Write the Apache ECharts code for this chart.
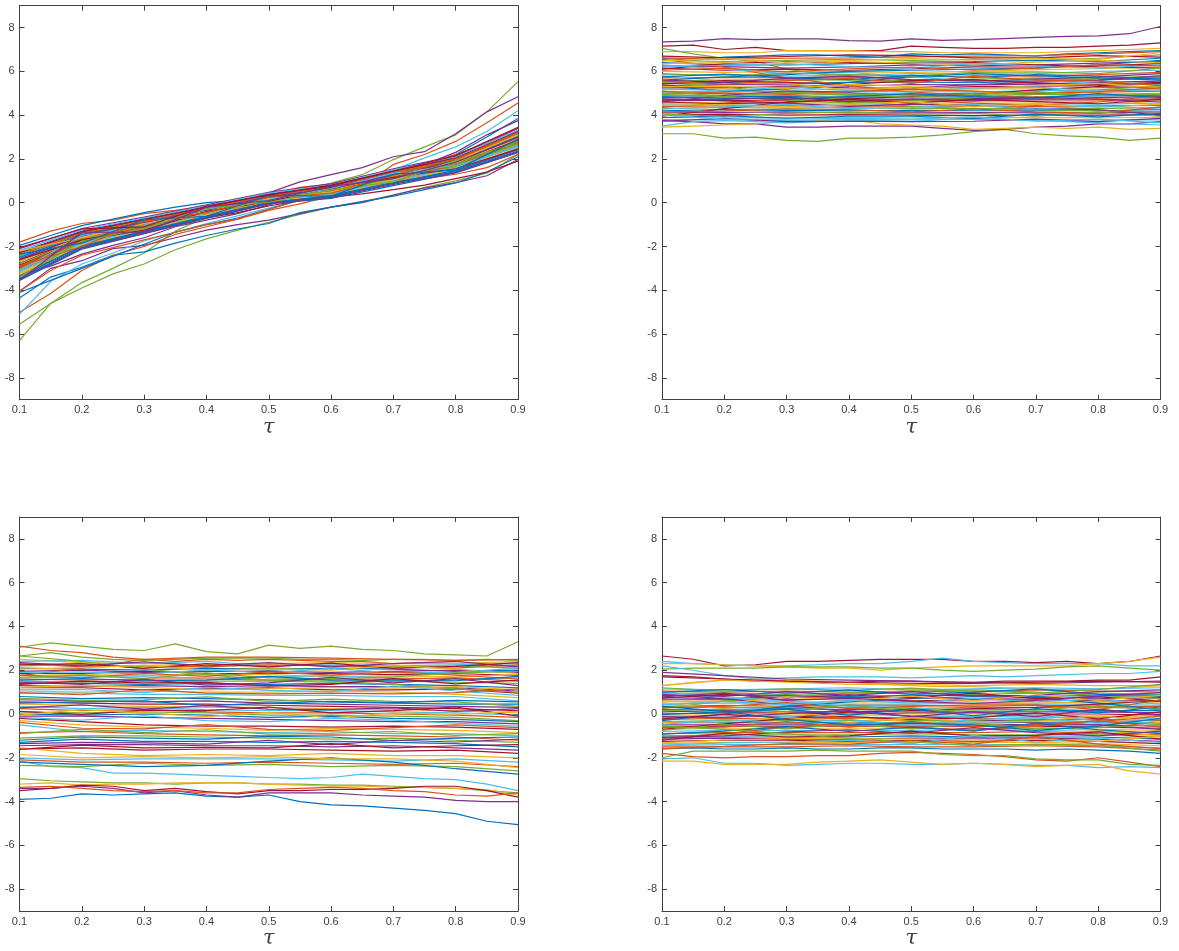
<!DOCTYPE html>
<html><head><meta charset="utf-8">
<style>html,body{margin:0;padding:0;background:#fff}#c{width:1179px;height:951px}</style>
<script src="https://cdn.jsdelivr.net/npm/echarts@6/dist/echarts.min.js"></script>
</head><body><div id="c"></div>
<script>
const tausFine=[0.1,0.15,0.2,0.25,0.3,0.35,0.4,0.45,0.5,0.55,0.6,0.65,0.7,0.75,0.8,0.85,0.9];
const tausCoarse=[0.1,0.2,0.3,0.4,0.5,0.6,0.7,0.8,0.9];
const yTickValues=[-8,-6,-4,-2,0,2,4,6,8];
const palette=['#0072BD','#D95319','#EDB120','#7E2F8E','#77AC30','#4DBEEB','#A2142F'];
const axisLabelName='τ';

const bandA=[
[-3.55,-2.12,-1.42,-.72,-.06,.2,.78,1.36,2.28],
[-2.1,-1.18,-.66,-.1,.47,.86,1.55,2.14,3.4],
[-2.95,-1.72,-1.1,-.46,.14,.5,1.14,1.74,2.75],
[-3.3,-1.95,-1.28,-.6,.03,.36,.98,1.52,2.5],
[-2.45,-1.42,-.84,-.28,.3,.68,1.34,1.96,3.05],
[-3.1,-1.88,-1.2,-.58,.05,.34,.96,1.6,2.62],
[-2.7,-1.55,-.98,-.36,.22,.6,1.24,1.84,2.95],
[-3.45,-2.05,-1.36,-.68,-.02,.28,.88,1.42,2.36],
[-2.25,-1.3,-.74,-.18,.4,.78,1.46,2.06,3.25],
[-2.85,-1.66,-1.04,-.42,.18,.54,1.18,1.78,2.82],
[-3.2,-1.9,-1.24,-.54,.08,.42,1.04,1.62,2.66],
[-2.55,-1.48,-.92,-.32,.26,.64,1.3,1.9,3.0],
[-3.0,-1.78,-1.14,-.5,.11,.46,1.1,1.68,2.7],
[-2.35,-1.36,-.8,-.24,.34,.72,1.4,2.0,3.15],
[-3.38,-2.0,-1.32,-.64,.0,.32,.92,1.46,2.42],
[-2.62,-1.52,-.95,-.34,.24,.62,1.27,1.88,2.9],
[-2.78,-1.6,-1.0,-.4,.2,.56,1.2,1.8,2.86],
[-3.25,-1.92,-1.26,-.56,.06,.38,1.0,1.56,2.56],
[-2.18,-1.24,-.7,-.14,.44,.82,1.5,2.1,3.32],
[-2.9,-1.7,-1.08,-.44,.16,.52,1.16,1.72,2.78],
[-3.05,-1.82,-1.16,-.52,.1,.44,1.07,1.65,2.68],
[-2.5,-1.45,-.88,-.3,.28,.66,1.32,1.93,3.02],
[-3.5,-2.08,-1.4,-.7,-.04,.24,.84,1.38,2.32],
[-2.3,-1.33,-.77,-.21,.37,.75,1.43,2.03,3.2],
[-2.66,-1.58,-.96,-.38,.23,.58,1.22,1.82,2.92],
[-3.15,-1.86,-1.22,-.48,.12,.4,1.02,1.58,2.6],
[-2.4,-1.4,-.86,-.26,.32,.7,1.36,1.98,3.1],
[-2.8,-1.64,-1.06,-.43,.17,.48,1.12,1.76,2.8],
[-3.35,-1.98,-1.3,-.62,.01,.3,.9,1.48,2.46],
[-2.58,-1.5,-.9,-.33,.25,.63,1.28,1.86,2.98],
[-2.6,-1.7,-1.25,-.4,.05,.7,1.15,1.55,2.45],
[-2.2,-1.6,-.95,-.55,.2,.5,1.05,1.9,3.1],
[-3.1,-1.5,-1.02,-.3,.15,.65,1.35,1.7,2.55],
[-2.9,-2.0,-.85,-.45,.25,.42,1.25,2.0,3.2],
[-3.4,-1.75,-1.18,-.25,.02,.58,.95,1.92,2.7],
[-2.35,-1.85,-.78,-.62,.33,.3,1.3,1.5,2.9],
[-3.55,-1.35,-1.35,-.2,.1,.75,1.1,1.85,3.0],
[-2.05,-1.2,-1.1,-.15,.35,.8,1.45,2.15,3.45]];
const edgeA=[
[4,-6.3,-4.6,-3.9,-3.25,-2.8,-2.15,-1.65,-1.25,-.9,-.53,-.2,.05,.35,.7,1.0,1.35,2.2],
[4,-5.55,-4.6,-3.65,-3.0,-2.3,-1.3,-.65,-.1,.25,.6,.9,1.28,1.97,2.55,3.1,4.15,5.53],
[3,-4.05,-3.0,-2.65,-2.1,-1.95,-1.6,-1.25,-1.0,-.8,-.5,-.2,0,.35,.67,.92,1.23,1.97],
[3,-2.9,-2.3,-1.9,-1.5,-1.2,-.8,-.4,0,.45,.95,1.28,1.6,2.1,2.33,3.15,4.15,4.84],
[0,-4.35,-3.4,-2.95,-2.4,-2.25,-1.85,-1.5,-1.2,-.95,-.45,-.2,.05,.3,.6,.9,1.4,2.1],
[1,-5.0,-4.15,-3.1,-2.4,-2.0,-1.45,-1.1,-.75,-.35,-.05,.3,.75,1.75,2.2,2.8,3.65,4.55],
[5,-5.1,-3.6,-2.8,-2.3,-1.75,-1.35,-.95,-.6,-.25,.1,.5,.95,1.5,2.05,2.55,3.25,4.2],
[0,-4.1,-3.55,-3.0,-2.45,-1.9,-1.35,-1.0,-.7,-.3,.15,.5,.85,1.25,1.7,2.2,3.0,3.85],
[3,-3.3,-2.9,-2.35,-1.95,-1.6,-1.1,-.8,-.5,-.1,.3,.65,.95,1.3,1.75,2.3,3.1,3.75],
[1,-4.05,-3.1,-2.4,-2.05,-1.7,-1.35,-1.0,-.75,-.3,.1,.35,.6,.95,1.1,1.3,1.6,2.2],
[6,-3.5,-2.6,-2.0,-1.7,-1.3,-1.0,-.7,-.45,-.15,.1,.25,.4,.6,.8,1.1,1.4,1.9],
[1,-1.8,-1.3,-.95,-.8,-.5,-.35,-.15,.05,.35,.7,.85,1.1,1.5,1.8,2.2,2.7,3.4],
[0,-1.95,-1.5,-1.05,-.75,-.45,-.2,0,.1,.3,.55,.8,1.05,1.4,1.75,2.1,2.6,3.3]];

const bandB=[
[6.62,6.55,6.6,6.62,6.66,6.7,6.72,6.8,6.9],
[6.5,6.45,6.5,6.55,6.5,6.55,6.5,6.6,6.75],
[6.4,6.3,6.3,6.35,6.42,6.45,6.5,6.45,6.6],
[6.25,6.22,6.15,6.2,6.3,6.25,6.3,6.38,6.45],
[6.15,6.05,6.1,6.05,6.12,6.2,6.2,6.25,6.35],
[6.0,5.95,6.0,5.98,5.95,6.0,6.08,6.12,6.2],
[5.85,5.85,5.78,5.82,5.9,5.88,5.9,6.0,6.05],
[5.7,5.72,5.7,5.75,5.72,5.8,5.78,5.85,5.95],
[5.55,5.6,5.62,5.6,5.58,5.65,5.7,5.68,5.8],
[5.45,5.5,5.45,5.5,5.52,5.48,5.55,5.6,5.7],
[5.35,5.4,5.38,5.32,5.4,5.38,5.42,5.5,5.55],
[5.25,5.25,5.3,5.25,5.22,5.3,5.32,5.35,5.45],
[5.15,5.2,5.15,5.18,5.15,5.2,5.2,5.25,5.3],
[5.05,5.08,5.1,5.05,5.08,5.05,5.12,5.15,5.2],
[5.0,4.98,5.02,5.0,4.95,5.0,5.02,5.05,5.1],
[4.9,4.92,4.9,4.95,4.9,4.92,4.95,4.95,5.0],
[4.8,4.85,4.85,4.82,4.85,4.82,4.85,4.88,4.9],
[4.72,4.75,4.78,4.75,4.72,4.78,4.75,4.8,4.85],
[4.65,4.68,4.65,4.7,4.68,4.7,4.7,4.7,4.75],
[4.55,4.6,4.6,4.58,4.6,4.62,4.6,4.62,4.65],
[4.5,4.5,4.52,4.5,4.5,4.5,4.52,4.5,4.55],
[4.4,4.42,4.45,4.42,4.4,4.42,4.4,4.42,4.45],
[4.3,4.35,4.32,4.35,4.3,4.3,4.32,4.3,4.35],
[4.2,4.25,4.22,4.2,4.22,4.2,4.2,4.2,4.25],
[4.1,4.12,4.15,4.1,4.1,4.12,4.1,4.1,4.15],
[4.0,4.05,4.0,4.02,4.0,3.98,4.0,4.0,4.02],
[3.9,3.88,3.9,3.9,3.88,3.88,3.9,3.88,3.9],
[3.8,3.78,3.75,3.8,3.78,3.8,3.8,3.78,3.78],
[6.55,6.2,5.7,5.35,5.05,4.9,4.8,4.75,4.7],
[5.5,5.3,4.95,4.7,4.4,4.3,4.25,4.2,4.15],
[5.35,5.1,5.2,5.5,5.75,5.9,5.8,5.7,5.6],
[4.6,4.9,5.1,5.05,5.25,5.4,5.5,5.6,5.8],
[3.95,4.3,4.6,4.75,4.85,4.95,5.15,5.3,5.25],
[5.8,5.55,5.45,5.15,5.25,5.1,4.85,4.7,4.5],
[6.3,6.1,5.9,5.95,5.75,5.55,5.6,5.45,5.4],
[4.35,4.55,4.75,4.6,4.7,4.55,4.45,4.6,4.9],
[5.1,4.85,4.7,4.55,4.65,4.8,5.0,5.15,5.35],
[5.6,5.75,5.85,6.0,6.05,6.1,6.15,6.3,6.5],
[4.75,4.65,4.55,4.4,4.5,4.45,4.3,4.25,4.0],
[6.1,6.35,6.45,6.4,6.35,6.4,6.3,6.2,6.15],
[6.35,6.4,6.28,6.45,6.38,6.3,6.42,6.5,6.4],
[6.2,6.28,6.35,6.22,6.15,6.35,6.25,6.15,6.3],
[6.05,6.15,5.98,6.12,6.2,6.05,6.15,6.3,6.25],
[5.9,5.78,5.92,5.85,5.78,5.95,5.98,5.9,6.15],
[5.75,5.88,5.7,5.62,5.82,5.72,5.85,5.78,5.65],
[5.6,5.5,5.68,5.78,5.62,5.55,5.65,5.75,5.9],
[5.42,5.58,5.5,5.4,5.58,5.62,5.45,5.4,5.5],
[5.3,5.32,5.22,5.42,5.3,5.2,5.35,5.45,5.25],
[5.2,5.12,5.28,5.12,5.05,5.25,5.28,5.1,5.15],
[5.08,5.02,4.95,5.08,5.18,5.1,4.98,5.08,5.25],
[4.95,4.85,5.05,4.9,4.82,4.95,5.08,4.9,4.95],
[4.85,4.78,4.72,4.85,4.98,4.85,4.78,4.98,4.8],
[4.7,4.72,4.82,4.62,4.75,4.65,4.82,4.72,4.6],
[4.6,4.52,4.58,4.72,4.55,4.72,4.62,4.52,4.72],
[4.45,4.48,4.38,4.48,4.62,4.38,4.5,4.35,4.5],
[4.28,4.38,4.48,4.3,4.35,4.48,4.28,4.42,4.28],
[4.15,4.18,4.28,4.25,4.15,4.28,4.15,4.08,4.38],
[4.05,3.95,4.08,4.15,4.05,4.08,3.95,4.15,3.95],
[3.88,3.98,3.85,3.95,3.95,3.85,4.05,3.92,4.08],
[3.72,3.85,3.7,3.72,3.7,3.72,3.82,3.7,3.85],
[6.7,6.62,6.68,6.75,6.72,6.62,6.62,6.72,6.65],
[6.48,6.58,6.42,6.5,6.58,6.52,6.6,6.55,6.85],
[4.0,3.82,3.82,3.85,3.82,3.92,3.72,3.82,3.65],
[5.55,5.42,5.58,5.68,5.45,5.78,5.6,5.55,5.35]];
const edgeB=[
[3,7.35,7.38,7.5,7.45,7.48,7.48,7.4,7.38,7.48,7.42,7.45,7.5,7.55,7.6,7.62,7.72,8.05],
[6,7.15,7.2,7.0,7.1,6.95,6.95,6.95,6.95,7.15,7.1,7.05,7.05,7.1,7.1,7.15,7.2,7.3],
[2,6.9,6.9,6.85,6.85,6.95,6.95,6.95,6.9,6.9,6.85,6.85,6.85,6.85,6.9,6.95,7,7.05],
[4,7.05,6.8,6.6,6.45,6.1,5.9,5.75,5.7,5.6,5.65,5.6,5.55,5.6,5.65,5.6,5.7,5.75],
[4,3.15,3.15,2.95,3.0,2.85,2.8,2.95,2.95,3.0,3.1,3.25,3.35,3.15,3.05,3.0,2.85,2.95],
[3,3.75,3.7,3.6,3.6,3.45,3.45,3.5,3.5,3.5,3.4,3.3,3.35,3.45,3.5,3.6,3.6,3.7],
[2,3.45,3.5,3.55,3.6,3.7,3.75,3.8,3.6,3.55,3.5,3.35,3.4,3.45,3.4,3.45,3.35,3.4],
[5,3.5,3.7,3.75,3.7,3.65,3.7,3.75,3.75,3.7,3.8,3.85,3.8,3.75,3.7,3.65,3.6,3.55],
[0,6.6,6.5,6.65,6.7,6.75,6.75,6.7,6.65,6.8,6.75,6.8,6.75,6.7,6.8,6.85,6.9,6.95]];

const bandC=[
[2.5,2.35,2.3,2.25,2.3,2.35,2.3,2.3,2.4],
[2.4,2.45,2.3,2.4,2.2,2.25,2.2,2.25,2.3],
[2.3,2.15,2.2,2.15,2.25,2.2,2.15,2.1,2.25],
[2.2,2.25,2.15,2.05,2.1,2.05,2.15,2.2,2.1],
[2.1,2.05,2.0,2.1,2.0,2.1,2.05,1.95,2.0],
[1.95,2.0,1.9,1.95,1.95,1.9,1.95,2.0,1.9],
[1.85,1.85,1.95,1.85,1.85,1.85,1.8,1.85,1.75],
[1.75,1.8,1.75,1.8,1.8,1.7,1.75,1.7,1.8],
[1.65,1.7,1.7,1.65,1.7,1.75,1.65,1.6,1.65],
[1.6,1.55,1.6,1.6,1.55,1.6,1.6,1.65,1.5],
[1.5,1.45,1.5,1.5,1.5,1.45,1.5,1.45,1.4],
[1.4,1.4,1.35,1.4,1.35,1.4,1.35,1.3,1.2],
[1.3,1.25,1.3,1.25,1.3,1.25,1.25,1.2,1.05],
[1.2,1.2,1.1,1.15,1.2,1.1,1.1,1.15,.95],
[1.05,1.0,1.05,1.0,1.0,1.05,1.0,.9,.75],
[.95,.95,.9,.9,.85,.85,.8,.8,.6],
[1.75,2.1,2.5,2.6,2.6,2.55,2.5,2.45,2.5],
[2.65,2.4,2.05,1.8,1.55,1.5,1.35,1.15,1.0],
[.8,.7,.75,.7,.65,.55,.5,.45,.45],
[.65,.6,.55,.6,.5,.45,.4,.35,.3],
[.55,.5,.45,.45,.4,.35,.3,.25,.15],
[.45,.4,.35,.3,.3,.25,.2,.15,.05],
[.35,.25,.3,.2,.15,.15,.1,.05,-.05],
[.25,.15,.2,.1,.05,.05,0,-.05,-.15],
[.1,.05,.1,.05,-.05,-.05,-.1,-.15,-.3],
[0,-.05,0,-.05,-.15,-.1,-.2,-.25,-.35],
[-.1,-.1,-.15,-.2,-.25,-.3,-.35,-.35,-.45],
[-.2,-.35,-.5,-.55,-.55,-.6,-.55,-.6,-.7],
[-.3,-.5,-.6,-.65,-.75,-.65,-.7,-.75,-.85],
[-.5,-.8,-.75,-.8,-.85,-.8,-.9,-.9,-1.0],
[-.85,-.8,-.9,-.95,-1.0,-.95,-1.0,-1.05,-1.2],
[-1.1,-1.0,-1.0,-1.05,-1.1,-1.15,-1.1,-1.2,-1.3],
[-1.3,-1.15,-1.25,-1.25,-1.3,-1.25,-1.3,-1.35,-1.5],
[-1.45,-1.4,-1.4,-1.45,-1.45,-1.5,-1.45,-1.55,-1.65],
[-1.6,-1.55,-1.65,-1.6,-1.6,-1.65,-1.7,-1.65,-1.8],
[-1.55,-1.8,-1.9,-1.85,-1.9,-1.8,-1.9,-1.9,-2.0],
[-2.0,-2.1,-2.05,-2.05,-2.05,-2.1,-2.15,-2.05,-2.2],
[-2.1,-2.2,-2.2,-2.25,-2.2,-2.25,-2.3,-2.25,-2.4],
[-2.35,-2.4,-2.25,-2.35,-2.3,-2.4,-2.35,-2.4,-2.6],
[-2.2,-2.3,-2.4,-2.35,-2.15,-2.0,-2.2,-2.5,-2.75],
[2.35,2.2,2.38,2.2,2.35,2.15,2.3,2.4,2.15],
[2.25,2.3,2.08,2.3,2.15,2.32,2.08,2.18,2.35],
[2.05,2.12,2.22,2.0,2.05,2.0,2.22,2.05,1.85],
[1.9,1.92,1.82,2.02,1.88,2.08,1.88,1.9,2.1],
[1.78,1.65,1.85,1.72,1.92,1.78,1.92,1.78,1.6],
[1.68,1.78,1.62,1.88,1.65,1.62,1.7,1.88,1.95],
[1.55,1.62,1.52,1.55,1.72,1.55,1.55,1.52,1.72],
[1.45,1.35,1.58,1.32,1.42,1.68,1.42,1.62,1.3],
[1.35,1.5,1.42,1.45,1.28,1.35,1.62,1.38,1.55],
[1.22,1.3,1.22,1.1,1.15,1.22,1.18,1.25,1.1],
[1.1,1.12,.98,1.22,1.08,1.02,1.28,1.05,.85],
[.98,.88,1.12,.95,.92,.95,.92,.98,1.15],
[.72,.62,.65,.78,.58,.68,.58,.55,.35],
[.5,.55,.6,.38,.5,.58,.52,.62,.55],
[.28,.42,.22,.38,.22,.2,.28,.12,.25],
[.12,-.02,.18,.15,.32,.05,.15,.32,-.1],
[-.05,.2,.05,-.12,.08,-.18,.05,-.02,.12],
[-.15,-.28,-.08,-.3,-.35,-.2,-.28,-.42,-.55],
[-.38,-.65,-.68,-.48,-.7,-.75,-.62,-.5,-.62],
[-.9,-.7,-.85,-.72,-.92,-.88,-.8,-.98,-.9],
[-1.2,-1.05,-1.1,-1.15,-1.02,-1.05,-1.22,-1.1,-1.05],
[-1.35,-1.3,-1.32,-1.38,-1.2,-1.4,-1.2,-1.28,-1.15],
[-1.62,-1.42,-1.55,-1.52,-1.55,-1.35,-1.55,-1.45,-1.4],
[-1.85,-2.0,-1.95,-2.0,-1.95,-2.05,-2.05,-2.15,-2.45]];
const edgeC=[
[4,3.05,3.25,3.1,2.95,2.9,3.2,2.85,2.75,3.15,3.0,3.1,2.95,2.9,2.75,2.7,2.65,3.3],
[1,3.1,2.9,2.8,2.6,2.5,2.4,2.5,2.45,2.5,2.45,2.4,2.4,2.3,2.35,2.3,2.2,2.2],
[4,2.65,2.8,2.6,2.5,2.45,2.5,2.55,2.55,2.55,2.5,2.5,2.45,2.5,2.5,2.45,2.5,2.45],
[0,-3.9,-3.85,-3.65,-3.7,-3.65,-3.6,-3.75,-3.8,-3.7,-4.0,-4.15,-4.2,-4.3,-4.4,-4.55,-4.9,-5.05],
[3,-3.4,-3.4,-3.3,-3.4,-3.6,-3.5,-3.7,-3.8,-3.6,-3.6,-3.6,-3.7,-3.75,-3.8,-3.95,-4.0,-4.0],
[5,-2.15,-2.4,-2.45,-2.7,-2.7,-2.75,-2.8,-2.85,-2.9,-2.95,-2.9,-2.75,-2.85,-2.95,-3.0,-3.2,-3.5],
[4,-2.95,-3.05,-3.1,-3.15,-3.15,-3.2,-3.15,-3.15,-3.2,-3.2,-3.25,-3.25,-3.3,-3.35,-3.4,-3.5,-3.6],
[2,-3.2,-3.15,-3.25,-3.2,-3.2,-3.15,-3.15,-3.15,-3.2,-3.25,-3.3,-3.3,-3.35,-3.35,-3.4,-3.45,-3.7],
[6,-3.5,-3.4,-3.25,-3.3,-3.5,-3.4,-3.55,-3.65,-3.5,-3.5,-3.45,-3.45,-3.4,-3.3,-3.3,-3.5,-3.8],
[1,-3.35,-3.3,-3.4,-3.5,-3.55,-3.5,-3.6,-3.6,-3.45,-3.4,-3.35,-3.4,-3.5,-3.55,-3.7,-3.75,-3.6]];

const bandD=[
[1.9,1.75,1.6,1.55,1.5,1.45,1.4,1.45,1.5],
[1.7,1.6,1.5,1.45,1.4,1.4,1.45,1.5,1.45],
[1.3,1.55,1.45,1.35,1.35,1.3,1.35,1.3,1.3],
[1.15,1.1,1.15,1.2,1.1,1.15,1.2,1.15,1.2],
[1.05,1.0,1.05,1.0,1.05,1.0,1.1,1.05,1.0],
[.95,.95,.9,.95,.95,.9,.95,.95,.9],
[.85,.85,.85,.8,.85,.85,.8,.85,.8],
[.75,.7,.8,.75,.75,.7,.75,.7,.75],
[.65,.65,.65,.7,.6,.65,.65,.6,.6],
[.55,.6,.55,.55,.55,.55,.5,.55,.5],
[.45,.5,.5,.45,.45,.5,.45,.45,.4],
[.35,.4,.35,.4,.4,.35,.4,.35,.35],
[.3,.3,.3,.3,.25,.3,.3,.3,.25],
[.2,.2,.25,.2,.2,.2,.2,.15,.15],
[.1,.15,.1,.1,.15,.1,.1,.1,.05],
[0,.05,.05,0,.05,.05,0,0,-.05],
[-.05,-.05,-.05,-.05,-.05,-.05,-.05,-.1,-.1],
[-.15,-.15,-.1,-.15,-.15,-.1,-.15,-.15,-.2],
[-.25,-.2,-.25,-.2,-.2,-.2,-.25,-.25,-.3],
[-.35,-.3,-.3,-.3,-.3,-.3,-.3,-.35,-.4],
[-.4,-.4,-.4,-.4,-.4,-.35,-.4,-.4,-.45],
[-.5,-.5,-.45,-.5,-.45,-.45,-.5,-.5,-.55],
[-.6,-.55,-.55,-.55,-.55,-.55,-.55,-.6,-.65],
[-.7,-.65,-.65,-.65,-.65,-.65,-.65,-.7,-.75],
[-.8,-.75,-.75,-.75,-.75,-.7,-.75,-.8,-.85],
[-.9,-.85,-.85,-.85,-.85,-.85,-.8,-.9,-.95],
[-1.0,-.95,-.95,-.95,-.9,-.95,-.95,-.95,-1.05],
[-1.05,-1.05,-1.05,-1.05,-1.0,-1.05,-1.05,-1.05,-1.15],
[-1.15,-1.1,-1.15,-1.15,-1.1,-1.1,-1.1,-1.15,-1.25],
[-1.25,-1.2,-1.2,-1.25,-1.2,-1.25,-1.2,-1.25,-1.35],
[-1.35,-1.3,-1.3,-1.3,-1.3,-1.3,-1.3,-1.35,-1.45],
[-1.45,-1.4,-1.4,-1.4,-1.4,-1.4,-1.4,-1.45,-1.55],
[-1.5,-1.5,-1.5,-1.45,-1.5,-1.5,-1.45,-1.5,-1.65],
[.25,.6,.8,.95,1.05,1.1,1.0,.85,.7],
[-.3,0,.35,.55,.7,.8,.75,.5,.2],
[.9,.7,.4,.1,-.1,-.25,-.4,-.5,-.7],
[-.7,-.45,-.2,.1,.15,.25,.3,.45,.6],
[.5,.25,.05,-.15,-.35,-.45,-.6,-.75,-1.0],
[1.0,.75,.6,.35,.3,.05,-.05,-.3,-.45],
[-1.1,-.9,-.6,-.4,-.6,-.75,-.55,-.35,-.1],
[1.2,1.05,1.15,1.08,1.18,1.05,.95,1.12,1.35],
[1.0,1.12,.95,1.1,.9,1.0,1.15,.9,.85],
[.88,.8,1.02,.85,1.02,.82,.85,1.02,1.1],
[.72,.9,.72,.88,.72,.95,.7,.78,.6],
[.6,.48,.78,.6,.82,.6,.88,.62,.85],
[.42,.58,.42,.62,.5,.72,.55,.68,.45],
[.28,.35,.52,.25,.35,.42,.42,.2,.65],
[.15,.22,.12,.42,.1,.2,.18,.38,.2],
[-.02,.1,.22,-.05,.22,-.08,.25,.05,.32],
[-.12,-.15,.02,.15,-.12,.1,-.12,.22,-.05],
[-.22,-.02,-.18,-.12,-.25,-.18,.05,-.22,.1],
[-.38,-.35,-.15,-.38,-.18,-.35,-.35,-.08,-.38],
[-.48,-.25,-.42,-.25,-.52,-.25,-.18,-.42,-.25],
[-.62,-.6,-.35,-.6,-.35,-.58,-.5,-.3,-.6],
[-.75,-.48,-.68,-.45,-.68,-.42,-.68,-.62,-.48],
[-.92,-.78,-.58,-.8,-.6,-.78,-.42,-.72,-.9],
[-1.08,-1.0,-.82,-.72,-.88,-.62,-.85,-1.0,-.78],
[-1.2,-.88,-1.05,-1.0,-.78,-1.0,-.98,-.82,-1.15],
[-1.32,-1.18,-1.12,-1.12,-1.15,-1.18,-1.15,-1.25,-1.02],
[-1.42,-1.32,-1.28,-1.2,-1.35,-.98,-1.28,-1.1,-1.3],
[-1.58,-1.48,-1.35,-1.38,-1.22,-1.38,-1.02,-1.38,-1.58],
[-.55,-.7,-.9,-1.12,-1.28,-1.45,-1.38,-1.42,-1.7],
[.35,.12,-.25,-.5,-.42,-.5,-.75,-.55,-.2],
[.78,.95,.62,.72,.58,.48,.62,.82,.98]];
const edgeD=[
[6,2.65,2.5,2.2,2.25,2.4,2.4,2.45,2.5,2.5,2.5,2.4,2.4,2.35,2.4,2.3,2.4,2.65],
[5,2.4,2.3,2.25,2.2,2.2,2.25,2.3,2.3,2.4,2.55,2.4,2.35,2.3,2.3,2.3,2.2,2.2],
[2,2.3,2.3,2.25,2.2,2.15,2.1,2.1,2.0,2.1,2.15,2.2,2.2,2.2,2.2,2.3,2.4,2.6],
[4,2.05,2.1,2.1,2.1,2.15,2.15,2.15,2.1,2.1,2.0,1.95,2.0,2.05,2.15,2.2,2.1,2.0],
[5,2.2,2.0,1.75,1.6,1.65,1.7,1.7,1.7,1.65,1.7,1.75,1.7,1.75,1.8,1.85,1.85,1.95],
[6,1.75,1.7,1.6,1.5,1.5,1.45,1.45,1.5,1.5,1.45,1.45,1.5,1.5,1.5,1.55,1.55,1.7],
[2,1.3,1.45,1.55,1.6,1.55,1.5,1.45,1.35,1.3,1.25,1.25,1.2,1.15,1.1,1.15,1.2,1.3],
[5,-2.05,-2.0,-2.25,-2.25,-2.35,-2.3,-2.25,-2.25,-2.3,-2.3,-2.25,-2.3,-2.35,-2.35,-2.45,-2.4,-2.45],
[2,-2.15,-2.15,-2.3,-2.3,-2.3,-2.2,-2.15,-2.1,-2.2,-2.3,-2.25,-2.3,-2.4,-2.35,-2.3,-2.6,-2.75],
[1,-1.8,-1.95,-2.0,-1.95,-1.95,-1.9,-1.9,-1.8,-1.75,-1.8,-1.85,-1.95,-2.1,-2.15,-2.0,-2.2,-2.4],
[4,-2.0,-1.7,-1.7,-1.7,-1.7,-1.65,-1.7,-1.7,-1.7,-1.85,-1.9,-1.9,-2.05,-2.1,-2.1,-2.3,-2.35],
[0,-1.6,-1.55,-1.6,-1.6,-1.55,-1.6,-1.6,-1.55,-1.55,-1.6,-1.6,-1.6,-1.65,-1.6,-1.65,-1.7,-1.8]];

const panels=[[19.5,5.7,bandA,edgeA],[662,5.7,bandB,edgeB],[19.5,517,bandC,edgeC],[662,517,bandD,edgeD]];
const W=498.5,H=394,INK='#404040';
const grids=[],xAxes=[],yAxes=[],series=[];
panels.forEach((p,i)=>{
  grids.push({left:p[0],top:p[1],width:W,height:H,containLabel:false});
  const base={min:0.1,max:0.9,interval:0.1,gridIndex:i,type:'value',splitLine:{show:false},
    axisLine:{onZero:false,lineStyle:{color:INK,width:1}},
    axisTick:{inside:true,length:5,lineStyle:{color:INK,width:1}}};
  xAxes.push({...base,position:'bottom',name:axisLabelName,nameLocation:'middle',nameGap:17,
    nameTextStyle:{fontFamily:'DejaVu Serif',fontStyle:'italic',fontSize:21,color:INK},
    axisLabel:{show:true,margin:5,fontSize:11,color:INK,fontFamily:'Liberation Sans',
      showMinLabel:true,showMaxLabel:true,formatter:v=>v.toFixed(1)}});
  xAxes.push({...base,position:'top',axisLabel:{show:false}});
  const yBase={min:-9,max:9,gridIndex:i,type:'value',interval:1,splitLine:{show:false},
    axisLine:{onZero:false,lineStyle:{color:INK,width:1}},
    axisTick:{inside:true,length:5,lineStyle:{color:INK,width:1},customValues:yTickValues}};
  yAxes.push({...yBase,position:'left',
    axisLabel:{margin:5,fontSize:11,color:INK,fontFamily:'Liberation Sans',customValues:yTickValues}});
  yAxes.push({...yBase,position:'right',axisLabel:{show:false}});
  const add=(taus,vals,color)=>series.push({type:'line',xAxisIndex:2*i,yAxisIndex:2*i,
    data:vals.map((v,k)=>[taus[k],v]),symbol:'none',silent:true,animation:false,
    lineStyle:{color,width:1.2},z:2});
  p[3].forEach(r=>add(tausFine,r.slice(1),palette[r[0]]));
  p[2].forEach((r,k)=>add(tausCoarse,r,palette[(k*3+i)%7]));
});
const chart=echarts.init(document.getElementById('c'),null,{renderer:'canvas'});
chart.setOption({animation:false,backgroundColor:'#fff',grid:grids,xAxis:xAxes,yAxis:yAxes,series,tooltip:{show:false},legend:{show:false}});
</script></body></html>
